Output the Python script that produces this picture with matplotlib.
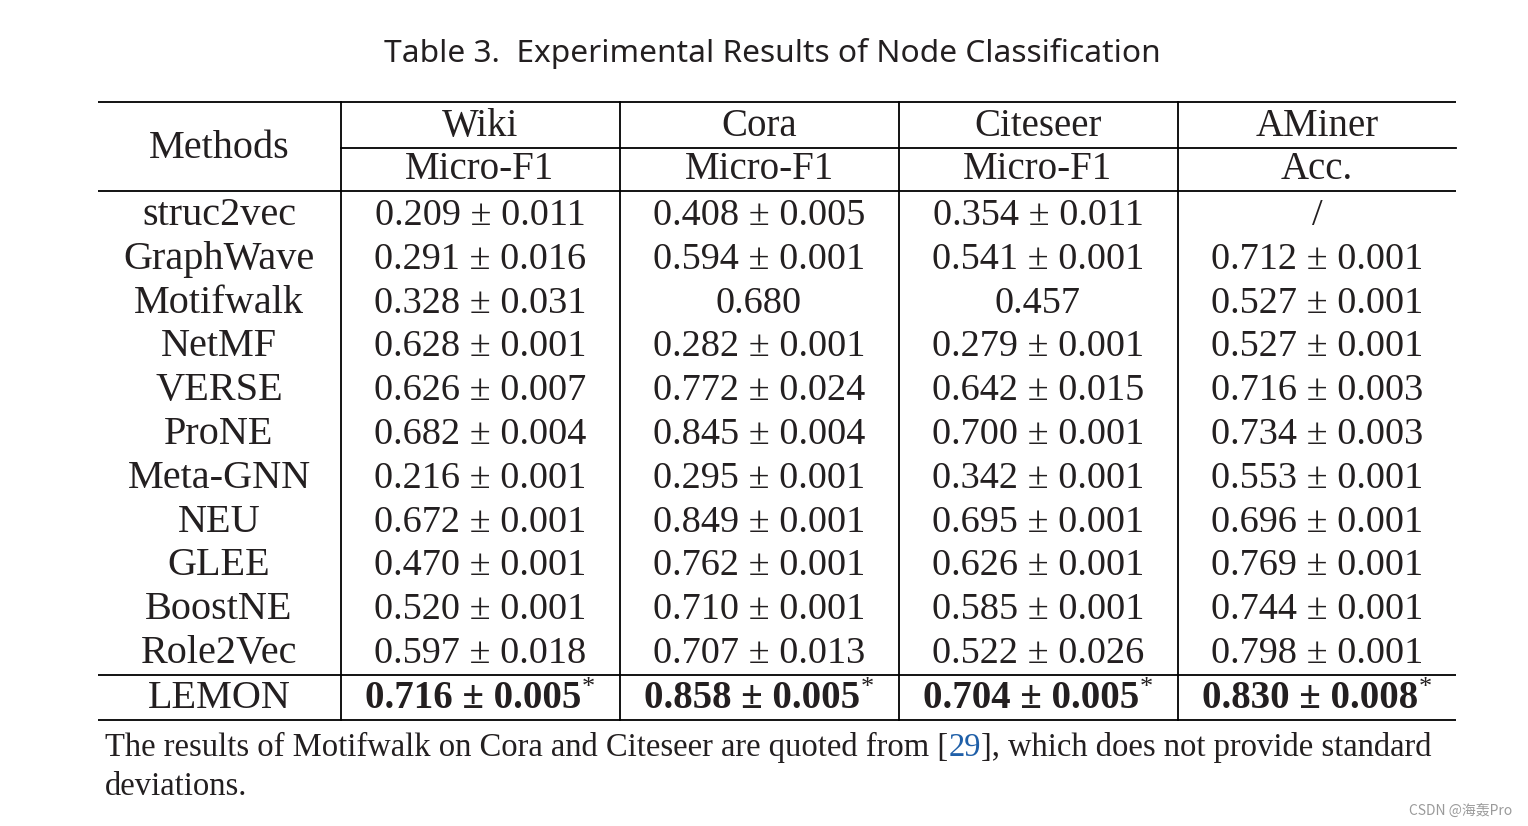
import matplotlib
matplotlib.use("Agg")
import matplotlib.pyplot as plt

# table content
methods = ["struc2vec", "GraphWave", "Motifwalk", "NetMF", "VERSE", "ProNE",
           "Meta-GNN", "NEU", "GLEE", "BoostNE", "Role2Vec"]
datasets = ["Wiki", "Cora", "Citeseer", "AMiner"]
metrics = ["Micro-F1", "Micro-F1", "Micro-F1", "Acc."]

wiki_mean = [0.209, 0.291, 0.328, 0.628, 0.626, 0.682, 0.216, 0.672, 0.470, 0.520, 0.597]
wiki_std = [0.011, 0.016, 0.031, 0.001, 0.007, 0.004, 0.001, 0.001, 0.001, 0.001, 0.018]
cora_mean = [0.408, 0.594, 0.680, 0.282, 0.772, 0.845, 0.295, 0.849, 0.762, 0.710, 0.707]
cora_std = [0.005, 0.001, None, 0.001, 0.024, 0.004, 0.001, 0.001, 0.001, 0.001, 0.013]
citeseer_mean = [0.354, 0.541, 0.457, 0.279, 0.642, 0.700, 0.342, 0.695, 0.626, 0.585, 0.522]
citeseer_std = [0.011, 0.001, None, 0.001, 0.015, 0.001, 0.001, 0.001, 0.001, 0.001, 0.026]
aminer_mean = [None, 0.712, 0.527, 0.527, 0.716, 0.734, 0.553, 0.696, 0.769, 0.744, 0.798]
aminer_std = [None, 0.001, 0.001, 0.001, 0.003, 0.003, 0.001, 0.001, 0.001, 0.001, 0.001]

best_method = "LEMON"
best_mean = [0.716, 0.858, 0.704, 0.830]
best_std = [0.005, 0.005, 0.005, 0.008]

title = "Table 3.  Experimental Results of Node Classification"
note_a = "The results of Motifwalk on Cora and Citeseer are quoted from ["
note_ref = "29"
note_b = "], which does not provide standard"
note_c = "deviations."

SERIF = "Liberation Serif"
INK = "#231f20"
FS_NUM = 27.5
FS_NAME = 29
FS_HEAD = 28
FS_NOTE = 23.5


def cell(mean, std):
    if mean is None:
        return "/"
    if std is None:
        return "%.3f" % mean
    return "%.3f \u00b1 %.3f" % (mean, std)


fig = plt.figure(figsize=(15.28, 8.26), dpi=100)
ax = fig.add_axes([0, 0, 1, 1])
ax.set_xlim(0, 1528)
ax.set_ylim(826, 0)
ax.axis("off")

# layout in pixels
left, right = 98, 1456
col_edges = [341, 620, 899, 1178]
col_x = [219, 480, 759, 1038, 1317]
row_base0, row_step = 225, 43.8
lw = 1.3

ax.text(772, 62, title, ha="center", va="baseline", fontsize=22.8,
        family="Noto Sans", color=INK)

# rules
for y in (102, 191, 675, 720):
    ax.plot([left, right], [y, y], color="black", lw=lw, solid_capstyle="butt")
ax.plot([col_edges[0], right], [148, 148], color="black", lw=lw)
for x in col_edges:
    ax.plot([x, x], [102, 720], color="black", lw=lw)

# header
ax.text(col_x[0], 158, "Methods", ha="center", va="baseline", fontsize=FS_NAME,
        family=SERIF, color=INK)
for i, (d, m) in enumerate(zip(datasets, metrics)):
    ax.text(col_x[i + 1], 136, d, ha="center", va="baseline", fontsize=FS_HEAD,
            family=SERIF, color=INK)
    ax.text(col_x[i + 1], 179, m, ha="center", va="baseline", fontsize=FS_HEAD,
            family=SERIF, color=INK)

# body
columns = [(wiki_mean, wiki_std), (cora_mean, cora_std),
           (citeseer_mean, citeseer_std), (aminer_mean, aminer_std)]
for r, name in enumerate(methods):
    yb = row_base0 + r * row_step
    ax.text(col_x[0], yb, name, ha="center", va="baseline", fontsize=FS_NAME,
            family=SERIF, color=INK)
    for c, (means, stds) in enumerate(columns):
        ax.text(col_x[c + 1], yb, cell(means[r], stds[r]), ha="center",
                va="baseline", fontsize=FS_NUM, family=SERIF, color=INK)

# best row, bold with asterisk
yb = 708
ax.text(col_x[0], yb, best_method, ha="center", va="baseline", fontsize=FS_NAME,
        family=SERIF, color=INK)
fig.canvas.draw()
renderer = fig.canvas.get_renderer()
inv = ax.transData.inverted()
for c in range(4):
    t = ax.text(0, yb, cell(best_mean[c], best_std[c]), ha="left", va="baseline",
                fontsize=28, family=SERIF, weight="bold", color=INK)
    s = ax.text(0, yb - 14, "*", ha="left", va="baseline", fontsize=19,
                family=SERIF, color=INK)
    bb = t.get_window_extent(renderer)
    sb = s.get_window_extent(renderer)
    w = bb.width + sb.width
    x0 = col_x[c + 1] - w / 2
    t.set_x(x0)
    s.set_x(x0 + bb.width)

# footnote
t1 = ax.text(105, 756, note_a, ha="left", va="baseline", fontsize=FS_NOTE,
             family=SERIF, color=INK)
fig.canvas.draw()
x1 = inv.transform(t1.get_window_extent(renderer))[1][0]
t2 = ax.text(x1, 756, note_ref, ha="left", va="baseline", fontsize=FS_NOTE,
             family=SERIF, color="#1f5fa8")
fig.canvas.draw()
x2 = inv.transform(t2.get_window_extent(renderer))[1][0]
ax.text(x2, 756, note_b, ha="left", va="baseline", fontsize=FS_NOTE,
        family=SERIF, color=INK)
ax.text(105, 795, note_c, ha="left", va="baseline", fontsize=FS_NOTE,
        family=SERIF, color=INK)

ax.text(1512, 815, "CSDN @海轰Pro", ha="right", va="baseline", fontsize=10,
        family=["Noto Sans CJK SC", "DejaVu Sans"], color="#9a9a9a")

fig.savefig("out.png", dpi=100)
